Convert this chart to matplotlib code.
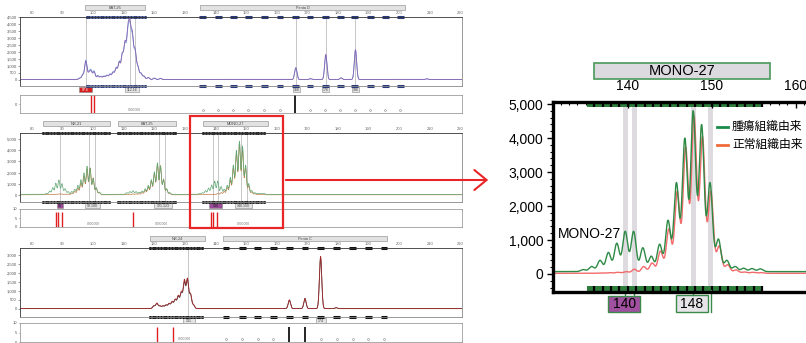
import numpy as np
import matplotlib.pyplot as plt
from matplotlib.patches import Rectangle, FancyArrowPatch
from matplotlib.lines import Line2D
from matplotlib.ticker import MultipleLocator, FuncFormatter

plt.rcParams['font.family'] = ['Liberation Sans', 'Noto Sans CJK JP', 'DejaVu Sans']

W, H = 806, 343

size_ticks = [80, 90, 100, 110, 120, 130, 140, 150, 160, 170, 180, 190, 200, 210, 220]

# --- panel 1: BAT-26 / Penta D (peak size, heights of two overlaid traces)
p1_pos = [95.6, 96.6, 97.6, 98.6, 99.3, 100.3, 101.5, 102.5, 103.5, 104.5, 105.5, 106.5,
          107.5, 108.5, 109.5, 110.4, 111.3, 112.0, 112.8, 113.7, 114.6, 115.6, 116.6,
          118.0, 120.0, 122.0, 166.2, 171.0, 176.0, 181.0, 185.7, 209.0]
p1_purple = [80, 300, 1300, 400, 550, 550, 250, 200, 220, 280, 350, 500,
             800, 1200, 1700, 2500, 3100, 3400, 3000, 2000, 900, 450, 250,
             150, 100, 80, 850, 60, 1790, 120, 2140, 50]
p1_blue = [100, 350, 1360, 450, 620, 600, 280, 220, 240, 300, 380, 520,
           820, 1250, 1750, 2400, 2900, 3300, 2800, 1900, 850, 420, 220,
           140, 100, 80, 820, 60, 1700, 110, 2050, 50]
p1_lines = [97.6, 112.0, 113.7, 166.2, 176.0, 185.7]
pentaD_bins = [135.8, 140.9, 145.8, 150.7, 155.9, 161.0, 166.0, 170.8, 175.8, 180.7,
               185.4, 190.5, 195.4, 200.3]

# --- panel 2: NR-21 / BAT-25 / MONO-27
nr21_pos = [84.8, 85.8, 86.8, 87.8, 88.8, 89.8, 90.8, 91.8, 93, 94, 95, 96, 97, 98, 99, 100, 101, 102]
nr21_green = [100, 300, 600, 1000, 1280, 950, 500, 250, 250, 450, 800, 1300, 1900, 2500, 2300, 1400, 600, 200]
nr21_red = [20, 30, 40, 60, 80, 80, 60, 60, 150, 300, 600, 1100, 1700, 2300, 2400, 1500, 600, 200]
bat25_pos = [111, 112, 113, 114, 115, 116, 117, 118, 119, 120, 121, 122, 123, 124, 125]
bat25_green = [150, 250, 320, 250, 200, 300, 500, 800, 1300, 2000, 2800, 2500, 1300, 500, 150]
bat25_red = [40, 60, 80, 90, 100, 200, 400, 700, 1200, 1900, 2700, 2600, 1400, 500, 150]
mono27_pos = [134.7, 135.7, 136.7, 137.7, 138.7, 139.7, 140.7, 141.8, 142.8, 143.8, 144.8,
              145.8, 146.8, 147.8, 148.8, 149.8, 150.8, 151.8, 152.8, 153.8, 154.8, 155.8]
mono27_tumor = [60, 150, 330, 560, 830, 1180, 1180, 700, 450, 800, 1500,
                2600, 3900, 4700, 4300, 2600, 950, 330, 150, 100, 90, 80]
mono27_normal = [0, 0, 10, 20, 30, 50, 120, 200, 300, 650, 1300,
                 2400, 3700, 4600, 4000, 2400, 800, 250, 100, 40, 30, 20]
p2_lines = [89.2, 98.7, 100.6, 121.6, 123.5, 139.3, 140.7, 148.2, 150.2]

# --- panel 3: NR-24 / Penta C
p3_pos = [119.8, 120.8, 121.8, 122.8, 123.8, 124.8, 125.8, 126.8, 127.8, 128.8, 129.8,
          130.8, 131.8, 132.8, 164.1, 169.2, 174.3, 179.4]
p3_red = [150, 300, 150, 150, 200, 280, 380, 500, 700, 900, 1550, 1620, 800, 200, 480, 570, 2900, 50]
p3_dark = [140, 280, 140, 140, 190, 260, 360, 480, 650, 850, 1450, 1550, 760, 190, 460, 550, 2800, 50]
p3_lines = [131.1]
pentaC_bins = [143.4, 148.7, 153.8, 158.9, 164.1, 169.2, 174.3, 179.6, 184.8, 189.9, 195.0]

legend_labels = ['腫瘍組織由来', '正常組織由来']


def trace(x, pos, h, width, base=0):
    y = np.full_like(x, float(base))
    for p, v in zip(pos, h):
        y += v * np.exp(-0.5 * ((x - p) / width) ** 2)
    return y


def box(l, t, r, b):
    return [l / W, 1 - b / H, (r - l) / W, (b - t) / H]


fig = plt.figure(figsize=(W / 100, H / 100), dpi=100)
xs = np.linspace(76, 221, 4000)
comma = FuncFormatter(lambda v, p: f'{v:,.0f}')


def main_panel(rect, ylim, yticks, loci, lines, dense, dashes, bcolor):
    ax = fig.add_axes(rect)
    ax.set_xlim(76.1, 220.5)
    ax.set_ylim(*ylim)
    ax.xaxis.tick_top()
    ax.set_xticks(size_ticks)
    ax.tick_params(axis='x', length=0, labelsize=3, pad=1.5, colors='#666')
    ax.set_yticks(yticks)
    ax.yaxis.set_major_formatter(comma)
    ax.tick_params(axis='y', length=1.2, width=0.4, labelsize=3, pad=1, colors='#555')
    for s in ax.spines.values():
        s.set_color('#888')
        s.set_linewidth(0.6)
    ax.spines['left'].set_color('#333')
    ax.spines['top'].set_color('#333')
    for x in lines:
        ax.axvline(x, color='#b0b0b0', lw=0.5, zorder=0)
    tr = ax.get_xaxis_transform()
    for a, b in dense:
        xx = np.arange(a, b, 0.9)
        for yy in (1.0, 0.0):
            ax.plot(xx, [yy] * len(xx), 's', ms=1.1, color=bcolor, transform=tr, clip_on=False)
    for b in dashes:
        for yy in (1.0, 0.0):
            ax.plot([b - 1.1, b + 1.1], [yy, yy], color=bcolor, lw=2.2, transform=tr,
                    clip_on=False, solid_capstyle='butt')
    for a, b, name in loci:
        ax.add_patch(Rectangle((a, 1.10), b - a, 0.075, transform=tr, clip_on=False,
                               fc='#e2e2e2', ec='#999', lw=0.5))
        ax.text((a + b) / 2, 1.137, name, transform=tr, ha='center', va='center',
                fontsize=2.8, color='#444')
    return ax


def peak_boxes(ax, items):
    tr = ax.get_xaxis_transform()
    for a, b, fc, tc, txt in items:
        ax.add_patch(Rectangle((a, -0.09), b - a, 0.075, transform=tr, clip_on=False,
                               fc=fc, ec='#888', lw=0.4))
        ax.text((a + b) / 2, -0.052, txt, transform=tr, ha='center', va='center',
                fontsize=2.6, color=tc)


def sub_panel(rect, yticks, red, black, circles, texts, bar_top):
    ax = fig.add_axes(rect)
    ax.set_xlim(76.1, 220.5)
    ax.set_ylim(0, 10)
    ax.set_xticks([])
    ax.set_yticks(yticks)
    ax.tick_params(axis='y', length=1, width=0.4, labelsize=3, pad=1, colors='#555')
    for s in ax.spines.values():
        s.set_color('#888')
        s.set_linewidth(0.5)
    ax.vlines(red, 0, bar_top, color='#e02020', lw=1.0)
    ax.vlines(black, 0, bar_top, color='black', lw=1.2)
    ax.plot(circles, [1.8] * len(circles), 'o', mfc='none', mec='#888', ms=1.4, mew=0.4)
    for x in texts:
        ax.text(x, 1.8, '0000000', fontsize=2.4, color='#777', va='center')
    return ax


# panel 1
ax1 = main_panel(box(20, 17, 462, 86), (-430, 4500), list(range(0, 4501, 500)),
                 [(97.3, 117.0, 'BAT-26'), (135.0, 202.0, 'Penta D')],
                 p1_lines, [(97.9, 117.6)], pentaD_bins, '#2a3a7a')
ax1.plot(xs, trace(xs, p1_pos, p1_blue, 0.38, 40), color='#7aa6e0', lw=0.6)
ax1.plot(xs, trace(xs, p1_pos, p1_purple, 0.38, 30), color='#8a64b0', lw=0.6)
peak_boxes(ax1, [(95.4, 99.6, '#d42020', 'white', '97.6'),
                 (110.4, 115.0, '#e4e4e4', '#444', '112.16'),
                 (165.3, 167.6, '#e4e4e4', '#444', '166'),
                 (174.9, 177.2, '#e4e4e4', '#444', '176'),
                 (184.6, 186.9, '#e4e4e4', '#444', '186')])
sub_panel(box(20, 95, 462, 113), [5], [99.3, 100.3], [166.0],
          [b for b in pentaD_bins if b != 166.0], [111.5], 10)
fig.axes[-1].set_yticklabels(['0'])

# panel 2
ax2 = main_panel(box(20, 133, 462, 202), (-625, 5540), list(range(0, 5001, 1000)),
                 [(83.6, 105.5, 'NR-21'), (108.0, 127.0, 'BAT-25'), (136.0, 157.0, 'MONO-27')],
                 p2_lines, [(83.6, 105.5), (108.0, 127.0), (136.0, 156.0)], [], '#222')
g_pos = nr21_pos + bat25_pos + mono27_pos
ax2.plot(xs, trace(xs, g_pos, nr21_red + bat25_red + mono27_normal, 0.3, 20),
         color='#c07a48', lw=0.5)
ax2.plot(xs, trace(xs, g_pos, nr21_green + bat25_green + mono27_tumor, 0.3, 60),
         color='#5ea872', lw=0.5)
peak_boxes(ax2, [(88.1, 90.2, '#9a4a98', '#222', '89'),
                 (97.3, 102.2, '#e4e4e4', '#444', '99.100'),
                 (119.9, 125.7, '#e4e4e4', '#444', '121.123'),
                 (138.0, 142.0, '#9a4a98', '#222', '140'),
                 (146.3, 151.8, '#e4e4e4', '#444', '148.150')])
sub_panel(box(20, 209, 462, 227), [0, 5, 10], [87.8, 88.6, 89.7, 113.1, 138.4, 139.3, 140.4],
          [], [], [98.0, 120.0, 147.0], 8.5)

# panel 3
ax3 = main_panel(box(20, 248, 462, 317), (-445, 3390), list(range(0, 3001, 500)),
                 [(118.5, 136.5, 'NR-24'), (142.4, 196.0, 'Penta C')],
                 p3_lines, [(118.5, 136.0)], pentaC_bins, '#111')
ax3.plot(xs, trace(xs, p3_pos, p3_dark, 0.38, 20), color='#555', lw=0.6)
ax3.plot(xs, trace(xs, p3_pos, p3_red, 0.38, 25), color='#a02828', lw=0.6)
peak_boxes(ax3, [(129.4, 133.3, '#e4e4e4', '#444', '131'),
                 (172.8, 176.0, '#e4e4e4', '#444', '174')])
sub_panel(box(20, 323, 462, 342), [0, 5, 10], [121.0, 126.0], [164.1, 169.2],
          [b for b in pentaC_bins if b not in (164.1, 169.2)], [127.8], 8)

# highlight box + arrow
fig.add_artist(Rectangle((190 / W, 1 - 228 / H), 93 / W, 112 / H, transform=fig.transFigure,
                         fill=False, ec='#e8262a', lw=1.6))
fig.add_artist(FancyArrowPatch((283 / W, 1 - 180 / H), (491 / W, 1 - 180 / H),
                               transform=fig.transFigure, color='#e8262a', lw=1.5,
                               arrowstyle='->, head_length=0.55, head_width=0.45',
                               mutation_scale=16))

# right: enlarged MONO-27
axr = fig.add_axes(box(553, 101.7, 820, 292))
axr.set_xlim(131.1, 162.9)
axr.set_ylim(-530, 5070)
xr = np.linspace(131, 163, 3000)
for x in [139.7, 140.8, 147.8, 149.9]:
    axr.axvspan(x - 0.3, x + 0.3, color='#dddae0', zorder=0, lw=0)
axr.plot(xr, trace(xr, [p + 0.1 for p in mono27_pos], mono27_normal, 0.3, 20),
         color='#f26b6b', lw=1.0)
axr.plot(xr, trace(xr, mono27_pos, mono27_tumor, 0.3, 70), color='#2f8a46', lw=1.0)

for s in axr.spines.values():
    s.set_linewidth(2.4)
axr.spines['right'].set_visible(False)
axr.set_yticks(range(0, 5001, 1000))
axr.yaxis.set_major_formatter(comma)
axr.yaxis.set_minor_locator(MultipleLocator(200))
axr.tick_params(axis='y', which='major', length=4, width=1, labelsize=10, pad=3)
axr.tick_params(axis='y', which='minor', length=2, width=0.8)
axr.xaxis.tick_top()
axr.set_xticks([140, 150, 160])
axr.xaxis.set_minor_locator(MultipleLocator(1))
axr.tick_params(axis='x', which='major', direction='in', length=4, width=1, labelsize=10, pad=6)
axr.tick_params(axis='x', which='minor', direction='in', length=2.5, width=0.8)

trr = axr.get_xaxis_transform()
mono27_bins = list(range(136, 157))
for yy in (0.97, 0.0):
    axr.add_patch(Rectangle((135.2, yy), 20.8, 0.03, transform=trr, fc='#2e7d3c', ec='none'))
    axr.vlines(mono27_bins, yy, yy + 0.03, transform=trr, color='black', lw=1.6)

axr.add_patch(Rectangle((136.0, 1.119), 20.9, 0.084, transform=trr, clip_on=False,
                        fc='#dcdadf', ec='#4a9a5a', lw=1.2))
axr.text(146.45, 1.161, 'MONO-27', transform=trr, ha='center', va='center', fontsize=10.5)

axr.text(131.7, 1176, 'MONO-27', fontsize=10, ha='left', va='center')

# called allele boxes under the axis
axr.add_patch(Rectangle((137.7, -0.107), 3.8, 0.086, transform=trr, clip_on=False,
                        fc='#a0509e', ec='#3a8a4a', lw=1))
axr.text(139.6, -0.064, '140', transform=trr, ha='center', va='center', fontsize=10)
axr.add_patch(Rectangle((145.7, -0.107), 3.9, 0.09, transform=trr, clip_on=False,
                        fc='#e6e4e8', ec='#3a8a4a', lw=1))
axr.text(147.65, -0.062, '148', transform=trr, ha='center', va='center', fontsize=10)
for x, y0, y1 in [(139.7, 0, -0.021), (140.8, 0, -0.021), (147.8, 0, -0.017), (149.9, 0.01, -0.107)]:
    axr.plot([x, x], [y0, y1], color='#3a8a4a', lw=1, transform=trr, clip_on=False)

# legend
for yy, c, lab in [(127.3, '#1a8a4a', legend_labels[0]), (145.0, '#f06a3a', legend_labels[1])]:
    fig.add_artist(Line2D([716.7 / W, 728.3 / W], [1 - yy / H] * 2, color=c, lw=2,
                          transform=fig.transFigure))
    fig.text(732 / W, 1 - yy / H, lab, fontsize=8.5, va='center', ha='left')

fig.savefig('out.png', dpi=100)
